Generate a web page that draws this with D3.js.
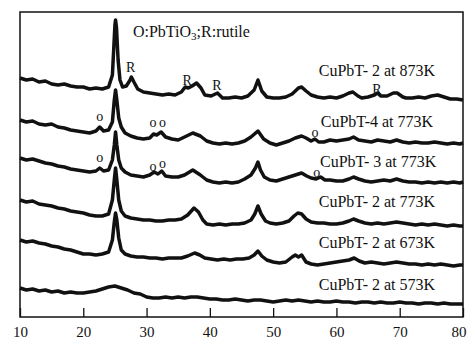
<!DOCTYPE html>
<meta charset="utf-8">
<script src="https://d3js.org/d3.v7.min.js"></script>
<style>
  body { margin: 0; background: #fff; }
  text { font-family: "Liberation Serif", "Times New Roman", serif; fill: #111; }
</style>
<div id="chart"></div>
<script>
// XRD patterns, [2theta (deg), intensity (a.u., stacked)]
const s873_2 = [[10,239],[11,237],[12,238],[13,235],[14,236],[15,233],[16,232],[17,233],[18,231],[19,230],[20,230],[21,228],[22,229],[23,228],[24,230],
  [24.6,242],[24.8,267],[25.0,292],[25.1,297],[25.25,289],[25.5,257],[25.8,237],[26.2,230],[26.8,231],[27.4,237],[27.6,240],[28.0,235],[28.6,228],
  [29.5,225],[30.5,224],[31.5,223],[32.5,222],[33.5,223],[34.5,222],[35.5,225],[36.1,230],[36.6,229],[37.2,231],[37.9,234],[38.6,229],[39.2,222],
  [40.2,221],[41.2,224],[42,219],[43,219],[44,220],[45,219],[46,221],[47,227],[47.6,237],[48.2,226],[49,220],[50,219],[51,219],[52,220],[53,223],
  [54,229],[54.5,230],[55.2,226],[56,222],[57,220],[58,219],[59,220],[60,219],[61,221],[62,224],[62.6,225],[63.4,221],[64,219],[65,220],[66,222],
  [66.5,224],[67,221],[68,221],[69,224],[69.6,224],[70.5,220],[71,219],[72,219],[73,220],[74,219],[75,221],[76,222],[77,220],[78,218],[79,218],[80,217]];

const s773_4 = [[10,197],[11,195],[12,196],[13,193],[14,192],[15,193],[16,190],[17,189],[18,187],[19,186],[20,185],[21,184],[22,186],[22.6,190],[23.2,186],
  [24,187],[24.6,195],[24.9,217],[25.1,227],[25.3,217],[25.6,199],[26,190],[26.6,184],[27.5,181],[28.5,179],[29.5,178],[30.5,179],[31.1,183],[31.6,182],
  [32.3,185],[33,180],[34,178],[35,177],[36,180],[37.3,184],[38.5,181],[39.5,176],[40.5,174],[41.5,173],[42.5,174],[43.5,173],[44.5,174],[45.5,176],
  [46.5,180],[47.6,186],[48.5,178],[49.5,174],[50.5,172],[51.5,174],[52.5,176],[53.5,179],[54.5,181],[55.2,179],[56,176],[56.6,178],[57.2,175],[58,175],
  [59,177],[60,176],[61,177],[62,178],[62.7,180],[63.5,177],[64.5,176],[65.5,175],[66.5,177],[67.5,176],[68.5,175],[69.5,177],[70.5,175],[71.5,174],
  [72.5,175],[73.5,174],[74.5,174],[75.5,175],[76.5,174],[77.5,173],[78.5,174],[79.5,173],[80,174]];

const s773_3 = [[10,159],[11,157],[12,158],[13,156],[14,154],[15,153],[16,151],[17,150],[18,148],[19,147],[20,146],[21,145],[22,146],[22.6,149],[23.2,146],
  [24,147],[24.6,157],[24.9,172],[25.1,185],[25.3,172],[25.6,157],[26,149],[26.6,145],[27.5,142],[28.5,141],[29.5,140],[30.5,142],[31.2,145],[31.8,143],
  [32.4,146],[33,141],[34,140],[35,140],[36,142],[37.3,147],[38.5,142],[39.5,137],[40.5,135],[41.5,134],[42.5,135],[43.5,134],[44.5,135],[45.5,138],
  [46.5,142],[47.2,149],[47.6,155],[48,147],[48.6,140],[49.5,137],[50.5,136],[51.5,138],[52.5,140],[53.5,142],[54.5,144],[55.3,141],[56,139],[56.8,138],
  [57.5,140],[58.2,137],[59,137],[60,136],[61,136],[62,138],[62.7,140],[63.5,138],[64.5,136],[65.5,135],[66.5,136],[67.5,137],[68.5,136],[69.5,138],
  [70.5,136],[71.5,135],[72.5,135],[73.5,134],[74.5,135],[75.5,134],[76.5,135],[77.5,134],[78.5,135],[79.5,134],[80,135]];

const s773_2 = [[10,117],[11,115],[12,116],[13,113],[14,112],[15,111],[16,109],[17,108],[18,106],[19,105],[20,104],[21,102],[22,101],[23,101],[24,103],
  [24.6,117],[24.9,137],[25.1,149],[25.3,137],[25.6,117],[26,106],[26.6,101],[27.5,99],[28.5,98],[29.5,97],[30.5,97],[31.5,96],[32.5,96],[33.5,97],
  [34.5,97],[35.5,98],[36.5,102],[37.5,109],[38.2,105],[38.9,97],[39.5,93],[40.5,92],[41.5,93],[42.5,92],[43.5,93],[44.5,93],[45.5,94],[46.5,97],
  [47.1,103],[47.6,111],[48.1,103],[48.8,96],[49.5,94],[50.5,93],[51.5,94],[52.5,96],[53.3,101],[53.9,104],[54.5,103],[55.2,98],[56,95],[57,94],
  [58,94],[59,93],[60,93],[61,94],[62,96],[62.7,98],[63.5,96],[64.5,94],[65.5,93],[66.5,94],[67.5,93],[68.5,94],[69.5,95],[70.5,94],[71.5,93],
  [72.5,92],[73.5,93],[74.5,92],[75.5,93],[76.5,92],[77.5,91],[78.5,92],[79.5,91],[80,91]];

const s673_2 = [[10,77],[11,75],[12,76],[13,74],[14,73],[15,71],[16,70],[17,68],[18,67],[19,65],[20,63],[21,63],[22,62],[23,63],[24,65],
  [24.6,77],[24.9,95],[25.1,104],[25.3,97],[25.6,79],[26,67],[26.6,63],[27.5,61],[28.5,60],[29.5,60],[30.5,59],[31.5,59],[32.5,58],[33.5,59],
  [34.5,59],[35.5,59],[36.5,61],[37.6,64],[38.4,62],[39.2,59],[40.2,58],[41.2,57],[42.2,58],[43.2,57],[44.2,58],[45.2,58],[46.2,59],[47,62],
  [47.6,66],[48.2,61],[49,57],[50,55],[51,54],[52,55],[53,60],[53.5,62],[54,60],[54.5,62],[55.2,55],[56,53],[57,52],[58,53],[59,54],[60,55],
  [61,56],[62,57],[62.8,59],[63.6,56],[64.5,54],[65.5,55],[66.5,54],[67.5,53],[68.5,54],[69.5,55],[70.5,54],[71.5,53],[72.5,53],[73.5,52],
  [74.5,53],[75.5,52],[76.5,53],[77.5,52],[78.5,51],[79.5,52],[80,52]];

const s573_2 = [[10,29],[11,27],[12,28],[13,26],[14,27],[15,25],[16,26],[17,24],[18,25],[19,24],[20,24],[21,25],[22,26],[23,28],[24,30],[25,31],
  [26,29],[27,27],[28,24],[29,23],[30,20],[31,19],[32,19],[33,20],[34,19],[35,20],[36,19],[37,20],[38,20],[39,19],[40,18],[41,18],[42,17],[43,17],
  [44,18],[45,17],[46,16],[47,17],[48,17],[49,16],[50,15],[51,16],[52,17],[53,16],[54,17],[55,16],[56,15],[57,16],[58,15],[59,15],[60,16],[61,15],
  [62,15],[63,14],[64,15],[65,15],[66,14],[67,15],[68,14],[69,14],[70,15],[71,14],[72,14],[73,13],[74,14],[75,14],[76,13],[77,14],[78,13],[79,13],[80,13]];

const series = [s873_2, s773_4, s773_3, s773_2, s673_2, s573_2];
const seriesLabels = ["CuPbT- 2 at 873K", "CuPbT-4 at 773K", "CuPbT- 3 at 773K", "CuPbT- 2 at 773K", "CuPbT- 2 at 673K", "CuPbT- 2 at 573K"];
const labelPos = [[66.4,241],[66.4,190],[66.6,150],[66.4,110],[66.4,69],[66.4,27]];

// phase markers: R = rutile, o = PbTiO3
const rutileMarks = [[27.5,245],[36.4,232],[41.1,227],[66.4,223]];
const pbtio3Marks = [[22.6,200],[31.0,194],[32.5,194],[56.6,184],[22.6,159],[31.0,150],[32.5,153],[56.9,144]];

const xTicks = [10, 20, 30, 40, 50, 60, 70, 80];

const W = 467, H = 340;
const margin = { top: 12, right: 4, bottom: 23, left: 20 };

const svg = d3.select("#chart").append("svg")
  .attr("width", W).attr("height", H);

const x = d3.scaleLinear().domain([10, 80]).range([margin.left, W - margin.right]);
const y = d3.scaleLinear().domain([0, 305]).range([H - margin.bottom, margin.top]);

// traces
const line = d3.line().x(d => x(d[0])).y(d => y(d[1]));
svg.append("g")
  .selectAll("path")
  .data(series)
  .join("path")
  .attr("d", line)
  .attr("fill", "none")
  .attr("stroke", "#111")
  .attr("stroke-width", 3.5)
  .attr("stroke-linejoin", "round");

// frame
svg.append("rect")
  .attr("x", x(10)).attr("y", y(305))
  .attr("width", x(80) - x(10)).attr("height", y(0) - y(305))
  .attr("fill", "none").attr("stroke", "#111").attr("stroke-width", 1.5);

// x axis, ticks pointing inward
const xAxis = svg.append("g")
  .attr("transform", "translate(0," + y(0) + ")")
  .call(d3.axisBottom(x).tickValues(xTicks).tickSizeInner(-9).tickSizeOuter(0));
xAxis.select(".domain").remove();
xAxis.selectAll("line").attr("stroke", "#111").attr("stroke-width", 1.3);
xAxis.selectAll("text")
  .attr("y", 9)
  .attr("font-size", 15)
  .style("font-family", "'Liberation Serif', 'Times New Roman', serif")
  .attr("fill", "#111");
// last label sits on the right edge; nudge it inside the window
xAxis.selectAll(".tick").filter(d => d === 80).select("text").attr("text-anchor", "end").attr("x", 3);

// sample labels
svg.append("g")
  .selectAll("text")
  .data(seriesLabels)
  .join("text")
  .attr("x", (d, i) => x(labelPos[i][0]))
  .attr("y", (d, i) => y(labelPos[i][1]))
  .attr("text-anchor", "middle")
  .attr("font-size", 16)
  .text(d => d);

svg.append("g")
  .selectAll("text")
  .data(rutileMarks)
  .join("text")
  .attr("x", d => x(d[0]))
  .attr("y", d => y(d[1]))
  .attr("text-anchor", "middle")
  .attr("font-size", 14)
  .text("R");

svg.append("g")
  .selectAll("text")
  .data(pbtio3Marks)
  .join("text")
  .attr("x", d => x(d[0]))
  .attr("y", d => y(d[1]) + 3.5)
  .attr("text-anchor", "middle")
  .attr("font-size", 14)
  .text("o");

// phase key
const key = svg.append("text")
  .attr("x", x(27.85)).attr("y", y(280))
  .attr("font-size", 16);
key.append("tspan").text("O:PbTiO");
key.append("tspan").attr("font-size", 11).attr("dy", 3).text("3");
key.append("tspan").attr("dy", -3).text(";R:rutile");
</script>
